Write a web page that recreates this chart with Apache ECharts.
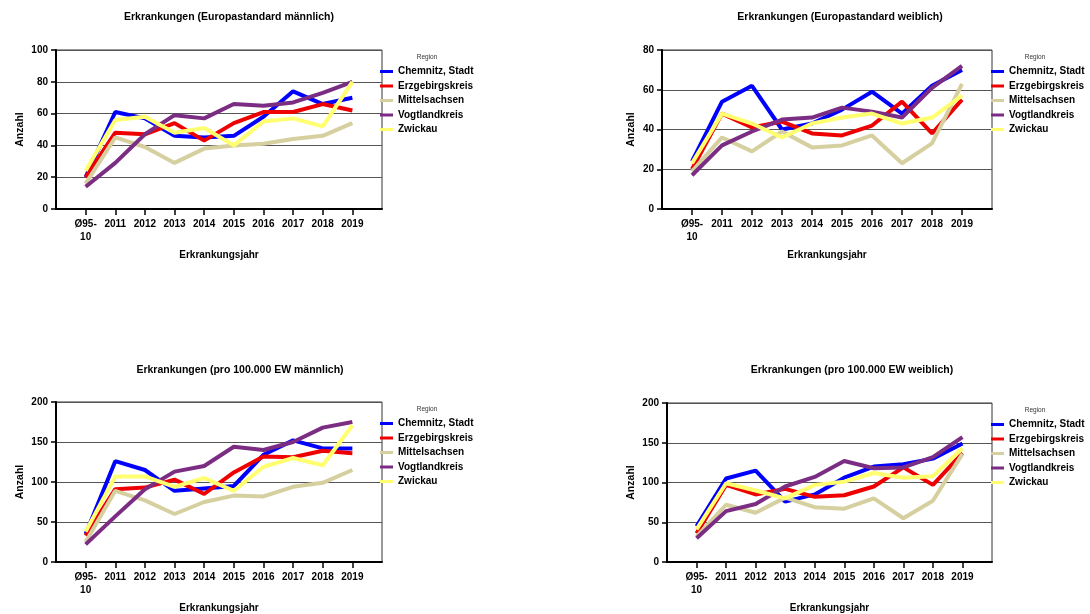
<!DOCTYPE html>
<html>
<head>
<meta charset="utf-8">
<script src="https://cdn.jsdelivr.net/npm/echarts@6/dist/echarts.min.js"></script>
<style>
* {
  margin: 0;
  padding: 0;
}
#chart-container {
  width: 1090px;
  height: 614px;
  background: #fff;
}
</style>
</head>
<body>
<div id="chart-container"></div>
<script>
const years = ['Ø95-\n10', '2011', '2012', '2013', '2014', '2015', '2016', '2017', '2018', '2019']
const regions = ['Chemnitz, Stadt', 'Erzgebirgskreis', 'Mittelsachsen', 'Vogtlandkreis', 'Zwickau']
const regionColors = ['#0000ff', '#ee0000', '#d6cf9f', '#7b2d83', '#ffff70']
const panelTitles = [
  'Erkrankungen (Europastandard männlich)',
  'Erkrankungen (Europastandard weiblich)',
  'Erkrankungen (pro 100.000 EW männlich)',
  'Erkrankungen (pro 100.000 EW weiblich)'
]
const yMax = [100, 80, 200, 200]
const yStep = [20, 20, 50, 50]

// one row per region, same order as regions
const euMale = [
  [20, 61, 57, 46, 45, 46, 58, 74, 66, 70],
  [20, 48, 47, 54, 43, 54, 61, 61, 66, 62],
  [16, 45, 39, 29, 38, 40, 41, 44, 46, 54],
  [14, 29, 47, 59, 57, 66, 65, 67, 73, 80],
  [24, 56, 58, 48, 51, 40, 55, 57, 52, 80]
]
const euFemale = [
  [24, 54, 62, 40, 43, 50, 59, 48, 62, 70],
  [20, 48, 41, 44, 38, 37, 42, 54, 38, 55],
  [19, 36, 29, 39, 31, 32, 37, 23, 33, 63],
  [17, 32, 39, 45, 46, 51, 49, 46, 61, 72],
  [23, 48, 43, 36, 43, 46, 48, 43, 46, 57]
]
const perMale = [
  [35, 126, 115, 89, 92, 95, 134, 152, 142, 142],
  [33, 91, 93, 103, 85, 112, 132, 131, 139, 136],
  [25, 89, 77, 60, 75, 83, 82, 94, 99, 115],
  [22, 57, 91, 113, 120, 144, 140, 150, 168, 175],
  [38, 107, 107, 94, 105, 89, 119, 130, 121, 171]
]
const perFemale = [
  [45, 105, 115, 76, 85, 106, 120, 123, 130, 149],
  [36, 97, 85, 92, 82, 84, 95, 119, 97, 137],
  [32, 72, 62, 81, 69, 67, 80, 55, 77, 136],
  [30, 64, 73, 95, 107, 127, 118, 119, 132, 157],
  [41, 99, 90, 80, 97, 101, 112, 106, 108, 143]
]
const panelData = [euMale, euFemale, perMale, perFemale]

// pixel layout of the four plot areas
const boxes = [
  { left: 56, top: 50, width: 326, height: 159, title: 229, legend: 380, region: 427, nameGap: 30 },
  { left: 662, top: 50, width: 330, height: 159, title: 840, legend: 991, region: 1035, nameGap: 25 },
  { left: 56, top: 402, width: 326, height: 160, title: 240, legend: 380, region: 427, nameGap: 30 },
  { left: 667, top: 403, width: 325, height: 159, title: 852, legend: 991, region: 1035, nameGap: 30 }
]

const font = "'Liberation Sans', Arial, sans-serif"
const padded = [''].concat(years, [' '])
const isReal = (i) => i > 0 && i < padded.length - 1

const chart = echarts.init(document.getElementById('chart-container'), null, { renderer: 'canvas' })

const title = []
const legend = []
const grid = []
const xAxis = []
const yAxis = []
const series = []

boxes.forEach((b, p) => {
  title.push({
    text: panelTitles[p],
    left: b.title,
    top: p < 2 ? 12 : 365,
    textAlign: 'center',
    padding: 0,
    textStyle: { fontFamily: font, fontSize: 10.5, fontWeight: 'bold', color: '#000' }
  })
  title.push({
    text: 'Region',
    left: b.region,
    top: b.top + 4,
    textAlign: 'center',
    padding: 0,
    textStyle: { fontFamily: font, fontSize: 6.5, fontWeight: 'normal', color: '#333' }
  })
  legend.push({
    orient: 'vertical',
    left: b.legend,
    top: b.top + 16.5,
    padding: 0,
    itemGap: 4.5,
    itemWidth: 13,
    itemHeight: 3,
    icon: 'rect',
    selectedMode: false,
    data: regions,
    textStyle: { fontFamily: font, fontSize: 10, fontWeight: 'bold', color: '#000' }
  })
  grid.push({
    left: b.left,
    top: b.top,
    width: b.width,
    height: b.height,
    show: true,
    borderColor: '#333',
    borderWidth: 1
  })
  xAxis.push({
    type: 'category',
    gridIndex: p,
    data: padded,
    boundaryGap: false,
    name: 'Erkrankungsjahr',
    nameLocation: 'middle',
    nameGap: 41,
    nameTextStyle: { fontFamily: font, fontSize: 10, fontWeight: 'bold', color: '#000' },
    axisLine: { onZero: false, lineStyle: { color: '#000', width: 2 } },
    axisTick: { interval: isReal, length: 6, lineStyle: { color: '#000', width: 1.5 } },
    axisLabel: {
      interval: 0,
      margin: 9,
      lineHeight: 13,
      fontFamily: font,
      fontSize: 10,
      fontWeight: 'bold',
      color: '#000',
      formatter: (v, i) => (isReal(i) ? v : '')
    },
    splitLine: { show: false }
  })
  yAxis.push({
    type: 'value',
    gridIndex: p,
    min: 0,
    max: yMax[p],
    interval: yStep[p],
    name: 'Anzahl',
    nameLocation: 'middle',
    nameRotate: 90,
    nameGap: b.nameGap,
    nameTextStyle: { fontFamily: font, fontSize: 10.5, fontWeight: 'bold', color: '#000' },
    axisLine: { show: true, lineStyle: { color: '#000', width: 2 } },
    axisTick: { show: true, length: 5, lineStyle: { color: '#000', width: 1.5 } },
    axisLabel: { margin: 8, fontFamily: font, fontSize: 10, fontWeight: 'bold', color: '#000' },
    splitLine: { lineStyle: { color: '#555', width: 1 } }
  })
  panelData[p].forEach((vals, r) => {
    series.push({
      name: regions[r],
      type: 'line',
      xAxisIndex: p,
      yAxisIndex: p,
      data: vals.map((v, i) => [i + 1, v]),
      showSymbol: false,
      symbol: 'none',
      color: regionColors[r],
      lineStyle: { width: 4, color: regionColors[r] },
      animation: false
    })
  })
})

chart.setOption({
  animation: false,
  title: title,
  legend: legend,
  grid: grid,
  xAxis: xAxis,
  yAxis: yAxis,
  series: series
})
</script>
</body>
</html>
